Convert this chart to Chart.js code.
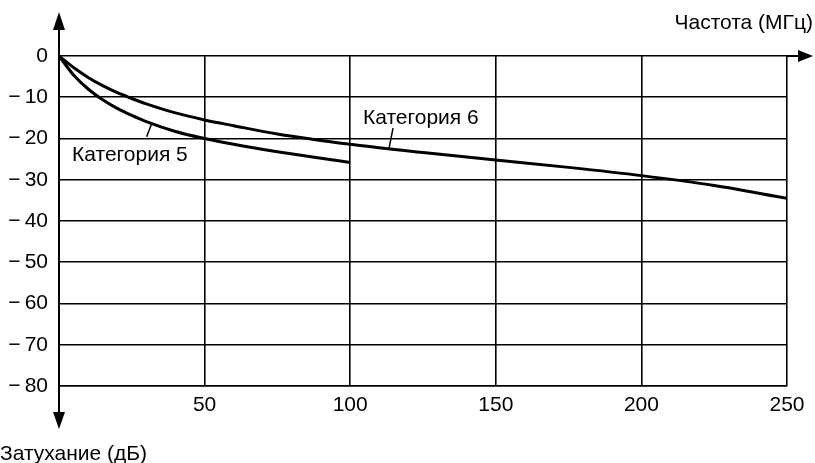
<!DOCTYPE html>
<html>
<head>
<meta charset="utf-8">
<style>
  html, body { margin: 0; padding: 0; background: #fff; }
  #wrap { width: 815px; height: 463px; }
</style>
<script src="https://cdn.jsdelivr.net/npm/chart.js"></script>
</head>
<body>
<div id="wrap"><canvas id="chart" width="815" height="463"></canvas></div>
<script>
// частота, МГц / затухание, дБ
const freqCat5 = [0, 5, 10, 15, 20, 25, 30, 40, 50, 60, 75, 90, 100];
const lossCat5 = [0, -4.6, -8.0, -10.6, -12.7, -14.4, -15.9, -18.3, -20, -21.4, -23.2, -24.8, -25.8];
const freqCat6 = [0, 5, 10, 15, 20, 25, 30, 40, 50, 60, 75, 100, 125, 150, 175, 200, 225, 250];
const lossCat6 = [0, -2.8, -5.2, -7.2, -8.9, -10.3, -11.6, -13.8, -15.5, -16.9, -18.9, -21.4, -23.4, -25.2, -27, -29, -31.4, -34.5];
const xTicks = [50, 100, 150, 200, 250];
const yTicks = [0, -10, -20, -30, -40, -50, -60, -70, -80];

const FONT = '"Liberation Sans", Arial, sans-serif';
const FSIZE = 21;

function toPoints(xs, ys) {
    return xs.map((x, i) => ({ x: x, y: ys[i] }));
}

function fmtY(v) {
    return v < 0 ? '\u2212\u2009' + Math.abs(v) : String(v);
}

// стрелки осей, подписи осей и выноски
const extras = {
    id: 'extras',
    afterDraw(chart) {
        const ctx = chart.ctx;
        const a = chart.chartArea;
        const xs = chart.scales.x;
        const ys = chart.scales.y;
        ctx.save();
        ctx.strokeStyle = '#000';
        ctx.fillStyle = '#000';
        ctx.lineWidth = 2;

        // ось частот со стрелкой
        ctx.beginPath();
        ctx.moveTo(a.right, a.top);
        ctx.lineTo(800, a.top);
        ctx.stroke();
        ctx.beginPath();
        ctx.moveTo(813, a.top);
        ctx.lineTo(798, a.top - 6);
        ctx.lineTo(798, a.top + 6);
        ctx.closePath();
        ctx.fill();

        // ось затухания со стрелками
        ctx.beginPath();
        ctx.moveTo(a.left, 28);
        ctx.lineTo(a.left, 415);
        ctx.stroke();
        ctx.beginPath();
        ctx.moveTo(a.left, 12);
        ctx.lineTo(a.left - 6, 30);
        ctx.lineTo(a.left + 6, 30);
        ctx.closePath();
        ctx.fill();
        ctx.beginPath();
        ctx.moveTo(a.left, 429);
        ctx.lineTo(a.left - 6, 412);
        ctx.lineTo(a.left + 6, 412);
        ctx.closePath();
        ctx.fill();

        ctx.font = FSIZE + 'px ' + FONT;
        ctx.textBaseline = 'alphabetic';
        ctx.textAlign = 'right';
        ctx.fillText('Частота (МГц)', 813, 29);
        ctx.textAlign = 'left';
        ctx.fillText('Затухание (дБ)', 0, 460);

        // подписи кривых
        ctx.fillText('Категория 6', xs.getPixelForValue(104.4), ys.getPixelForValue(-16.5));
        ctx.fillText('Категория 5', xs.getPixelForValue(4.5), ys.getPixelForValue(-25.4));
        ctx.lineWidth = 1.5;
        ctx.beginPath();
        ctx.moveTo(xs.getPixelForValue(114.7), ys.getPixelForValue(-17.5));
        ctx.lineTo(xs.getPixelForValue(113.3), ys.getPixelForValue(-22.5));
        ctx.stroke();
        ctx.beginPath();
        ctx.moveTo(xs.getPixelForValue(30.1), ys.getPixelForValue(-19.6));
        ctx.lineTo(xs.getPixelForValue(31.8), ys.getPixelForValue(-16.4));
        ctx.stroke();
        ctx.restore();
    }
};

new Chart(document.getElementById('chart'), {
    type: 'line',
    data: {
        datasets: [
            {
                label: 'Категория 5',
                data: toPoints(freqCat5, lossCat5),
                borderColor: '#000',
                borderWidth: 3,
                pointRadius: 0,
                cubicInterpolationMode: 'monotone',
                fill: false
            },
            {
                label: 'Категория 6',
                data: toPoints(freqCat6, lossCat6),
                borderColor: '#000',
                borderWidth: 3,
                pointRadius: 0,
                cubicInterpolationMode: 'monotone',
                fill: false
            }
        ]
    },
    options: {
        responsive: false,
        animation: false,
        layout: { padding: { top: 56, right: 28, bottom: 0, left: 0 } },
        plugins: {
            legend: { display: false },
            tooltip: { enabled: false }
        },
        scales: {
            x: {
                type: 'linear',
                min: 0,
                max: 250,
                afterFit(scale) { scale.height = 77; },
                afterBuildTicks(scale) {
                    scale.ticks = [0].concat(xTicks).map(v => ({ value: v }));
                },
                grid: { color: '#000', lineWidth: 1.6, drawTicks: false },
                border: { display: true, color: '#000', width: 1.6 },
                ticks: {
                    color: '#000',
                    font: { family: FONT, size: FSIZE },
                    padding: 7,
                    maxRotation: 0,
                    callback: v => (xTicks.includes(v) ? String(v) : '')
                }
            },
            y: {
                type: 'linear',
                min: -80,
                max: 0,
                afterFit(scale) { scale.width = 59; },
                afterBuildTicks(scale) {
                    scale.ticks = yTicks.map(v => ({ value: v }));
                },
                grid: { color: '#000', lineWidth: 1.6, drawTicks: false },
                border: { display: true, color: '#000', width: 2 },
                ticks: {
                    color: '#000',
                    font: { family: FONT, size: FSIZE },
                    padding: 11,
                    callback: v => fmtY(v)
                }
            }
        }
    },
    plugins: [extras]
});
</script>
</body>
</html>
